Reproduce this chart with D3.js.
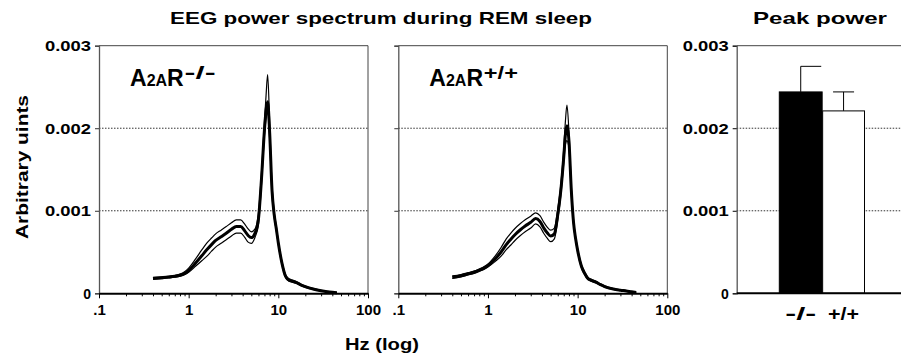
<!DOCTYPE html>
<html><head><meta charset="utf-8">
<script src="https://cdn.jsdelivr.net/npm/d3@7"></script>
<style>
body{margin:0;background:#fff;}
svg text{font-family:"Liberation Sans",Arial,Helvetica,sans-serif;font-weight:bold;fill:#000;}
</style></head>
<body><svg id="c" width="901" height="361"></svg>
<script>
// ---- data ----
const freqHz = [0.4,0.5,0.6,0.7,0.8,0.9,1.0,1.2,1.4,1.6,1.8,2.0,2.3,2.6,3.0,3.4,3.8,4.2,4.6,5.0,5.5,6.0,6.5,7.0,7.3,7.6,8.0,8.5,9.0,9.5,10,11,12,13,14,16,18,20,25,30,35,40,45];
const koMean  = [0.000180,0.000188,0.000196,0.000205,0.000218,0.000240,0.000275,0.000370,0.000455,0.000530,0.000590,0.000640,0.000685,0.000725,0.000775,0.000810,0.000810,0.000760,0.000700,0.000675,0.000730,0.000900,0.001400,0.001980,0.002220,0.002320,0.001950,0.001250,0.000950,0.000780,0.000610,0.000360,0.000210,0.000165,0.000150,0.000128,0.000100,0.000080,0.000050,0.000032,0.000020,0.000012,0.000006];
const koUpper = [0.000192,0.000200,0.000208,0.000218,0.000232,0.000260,0.000305,0.000420,0.000525,0.000610,0.000670,0.000720,0.000765,0.000805,0.000855,0.000890,0.000890,0.000840,0.000780,0.000745,0.000780,0.000970,0.001480,0.002080,0.002400,0.002650,0.002080,0.001310,0.000985,0.000810,0.000630,0.000380,0.000228,0.000180,0.000165,0.000138,0.000110,0.000088,0.000056,0.000037,0.000024,0.000015,0.000008];
const koLower = [0.000170,0.000178,0.000186,0.000195,0.000207,0.000225,0.000255,0.000330,0.000395,0.000450,0.000510,0.000560,0.000605,0.000645,0.000695,0.000730,0.000730,0.000680,0.000620,0.000605,0.000680,0.000830,0.001330,0.001910,0.002120,0.002200,0.001870,0.001200,0.000920,0.000755,0.000590,0.000340,0.000195,0.000150,0.000138,0.000118,0.000092,0.000072,0.000045,0.000028,0.000017,0.000010,0.000005];
const wtMean  = [0.000195,0.000212,0.000235,0.000255,0.000280,0.000305,0.000335,0.000415,0.000500,0.000590,0.000655,0.000710,0.000770,0.000815,0.000860,0.000905,0.000870,0.000790,0.000730,0.000695,0.000720,0.000950,0.001250,0.001650,0.001920,0.002030,0.001850,0.001250,0.000860,0.000660,0.000520,0.000330,0.000240,0.000180,0.000160,0.000135,0.000105,0.000082,0.000052,0.000038,0.000028,0.000018,0.000010];
const wtUpper = [0.000212,0.000228,0.000250,0.000270,0.000295,0.000322,0.000355,0.000450,0.000555,0.000660,0.000730,0.000785,0.000845,0.000890,0.000935,0.000975,0.000940,0.000860,0.000800,0.000765,0.000790,0.001020,0.001320,0.001750,0.002080,0.002280,0.001960,0.001300,0.000890,0.000685,0.000540,0.000350,0.000258,0.000195,0.000172,0.000145,0.000114,0.000090,0.000058,0.000043,0.000032,0.000021,0.000012];
const wtLower = [0.000180,0.000198,0.000222,0.000242,0.000266,0.000290,0.000318,0.000385,0.000450,0.000530,0.000585,0.000640,0.000700,0.000745,0.000790,0.000840,0.000805,0.000725,0.000665,0.000625,0.000660,0.000890,0.001190,0.001580,0.001800,0.001850,0.001760,0.001200,0.000830,0.000640,0.000500,0.000312,0.000225,0.000168,0.000150,0.000125,0.000097,0.000075,0.000047,0.000034,0.000024,0.000015,0.000008];
const barGroups = ["-/-","+/+"];
const barPeak   = [0.00244,0.00221];
const barErrTop = [0.00275,0.00244];
const yTicks = [0,0.001,0.002,0.003];
const yTickLabels = ["0","0.001","0.002","0.003"];
const xMajor = [0.1,1,10,100];
const xMajorLabels = [".1","1","10","100"];

// ---- drawing ----
const svg = d3.select("#c");
const y = d3.scaleLinear().domain([0,0.003]).range([293.3,45.7]);
const gridCol = "#333";

function styleYLabels(sel){
  sel.attr("font-size",14).attr("dx",-1).attr("dy","0.36em")
    .attr("textLength",(d,i)=> i===0?null:46).attr("lengthAdjust","spacingAndGlyphs");
}

function spectrumPanel(x0, x1, mean, upper, lower, showYLabels, sup, supLen){
  const x = d3.scaleLog().domain([0.1,100]).range([x0,x1]);
  const g = svg.append("g");
  g.selectAll("line.grid").data([0.001,0.002]).join("line")
    .attr("x1",x0).attr("x2",x1).attr("y1",d=>y(d)).attr("y2",d=>y(d))
    .attr("stroke",gridCol).attr("stroke-width",1).attr("stroke-dasharray","1.5,1.5");
  g.append("line").attr("x1",x0).attr("x2",x1).attr("y1",y(0.003)).attr("y2",y(0.003)).attr("stroke","#444");
  g.append("line").attr("x1",x1).attr("x2",x1).attr("y1",y(0.003)).attr("y2",y(0)).attr("stroke","#444");
  const ya = d3.axisLeft(y).tickValues(yTicks).tickSize(4)
    .tickFormat((d,i)=> showYLabels ? yTickLabels[i] : "");
  const yg = g.append("g").attr("transform",`translate(${x0},0)`).call(ya);
  yg.select(".domain").attr("stroke","#555").attr("stroke-width",1.3);
  yg.selectAll(".tick line").attr("stroke","#333");
  if (showYLabels) styleYLabels(yg.selectAll("text"));
  const minor = [];
  [0.1,1,10].forEach(b=>{for(let k=2;k<=9;k++) minor.push(b*k);});
  const xm = d3.axisBottom(x).tickValues(minor).tickSize(3).tickFormat("");
  const xmg = g.append("g").attr("transform",`translate(0,${y(0)})`).call(xm);
  xmg.select(".domain").remove();
  xmg.selectAll(".tick line").attr("stroke","#000");
  const xa = d3.axisBottom(x).tickValues(xMajor).tickSize(5).tickSizeOuter(0)
    .tickFormat((d,i)=>xMajorLabels[i]);
  const xg = g.append("g").attr("transform",`translate(0,${y(0)})`).call(xa);
  xg.select(".domain").attr("stroke","#000").attr("stroke-width",2);
  xg.selectAll(".tick line").attr("stroke","#000");
  xg.selectAll("text").attr("font-size",15).attr("dy","0.9em");
  const pts = arr => freqHz.map((f,i)=>[f,arr[i]]);
  const line = d3.line().x(d=>x(d[0])).y(d=>y(d[1])).curve(d3.curveMonotoneX);
  [[upper,1.2],[lower,1.2],[mean,3]].forEach(([arr,w])=>{
    g.append("path").attr("d",line(pts(arr))).attr("fill","none")
      .attr("stroke","#000").attr("stroke-width",w).attr("stroke-linejoin","round");
  });
  const t = g.append("text").attr("x",x0+31).attr("y",85.5);
  t.append("tspan").attr("font-size",23).text("A");
  t.append("tspan").attr("font-size",16).text("2A");
  t.append("tspan").attr("font-size",23).text("R");
  const bb = t.node().getBBox();
  g.append("text").attr("x",bb.x+bb.width+0.5).attr("y",79).attr("font-size",19)
    .attr("textLength",supLen).attr("lengthAdjust","spacingAndGlyphs").text(sup);
}

spectrumPanel(99,368,koMean,koUpper,koLower,true,"-/-",31);
spectrumPanel(398.3,667.3,wtMean,wtUpper,wtLower,false,"+/+",34);

(function(){
  const x0=736.7, x1=901;
  const g = svg.append("g");
  const xb = d3.scaleBand().domain(barGroups).range([779.3,865]).padding(0);
  g.selectAll("line.grid").data([0.001,0.002]).join("line")
    .attr("x1",x0).attr("x2",x1).attr("y1",d=>y(d)).attr("y2",d=>y(d))
    .attr("stroke",gridCol).attr("stroke-width",1).attr("stroke-dasharray","1.5,1.5");
  g.append("line").attr("x1",x0).attr("x2",x1).attr("y1",y(0.003)).attr("y2",y(0.003)).attr("stroke","#444");
  barGroups.forEach((k,i)=>{
    const cx = xb(k)+xb.bandwidth()/2;
    g.append("line").attr("x1",cx).attr("x2",cx).attr("y1",y(barPeak[i])).attr("y2",y(barErrTop[i])).attr("stroke","#000");
    const cl = i===0 ? cx : cx-10.5, cr = i===0 ? cx+20.5 : cx+10.5;
    g.append("line").attr("x1",cl).attr("x2",cr).attr("y1",y(barErrTop[i])).attr("y2",y(barErrTop[i])).attr("stroke","#000");
  });
  g.selectAll("rect").data(barGroups).join("rect")
    .attr("x",d=>xb(d)+(d==="-/-"?0:0.5)).attr("width",d=>xb.bandwidth()-(d==="-/-"?0:1))
    .attr("y",(d,i)=>y(barPeak[i])).attr("height",(d,i)=>y(0)-y(barPeak[i]))
    .attr("fill",(d,i)=>i===0?"#000":"#fff").attr("stroke","#000").attr("stroke-width",1);
  const ya = d3.axisLeft(y).tickValues(yTicks).tickSize(4).tickFormat((d,i)=>yTickLabels[i]);
  const yg = g.append("g").attr("transform",`translate(${x0},0)`).call(ya);
  yg.select(".domain").attr("stroke","#555").attr("stroke-width",1.3);
  styleYLabels(yg.selectAll("text"));
  const xa = d3.axisBottom(xb).tickSize(0).tickSizeOuter(0);
  const xg = g.append("g").attr("transform",`translate(0,${y(0)})`).call(xa);
  xg.select(".domain").attr("d",`M${x0},0H${x1}`).attr("stroke","#000").attr("stroke-width",2);
  xg.selectAll("text").attr("font-size",18).attr("dy","1.3em")
    .attr("textLength",31).attr("lengthAdjust","spacingAndGlyphs");
})();

svg.append("text").attr("x",381).attr("y",24).attr("text-anchor","middle").attr("font-size",16.5)
  .attr("textLength",422).attr("lengthAdjust","spacingAndGlyphs").text("EEG power spectrum during REM sleep");
svg.append("text").attr("x",820).attr("y",24).attr("text-anchor","middle").attr("font-size",16.5)
  .attr("textLength",134).attr("lengthAdjust","spacingAndGlyphs").text("Peak power");
svg.append("text").attr("x",382).attr("y",350).attr("text-anchor","middle").attr("font-size",16.5)
  .attr("textLength",74).attr("lengthAdjust","spacingAndGlyphs").text("Hz (log)");
svg.append("text").attr("transform","translate(28,167) rotate(-90)").attr("text-anchor","middle").attr("font-size",17)
  .attr("textLength",144).attr("lengthAdjust","spacingAndGlyphs").text("Arbitrary uints");
</script></body></html>
